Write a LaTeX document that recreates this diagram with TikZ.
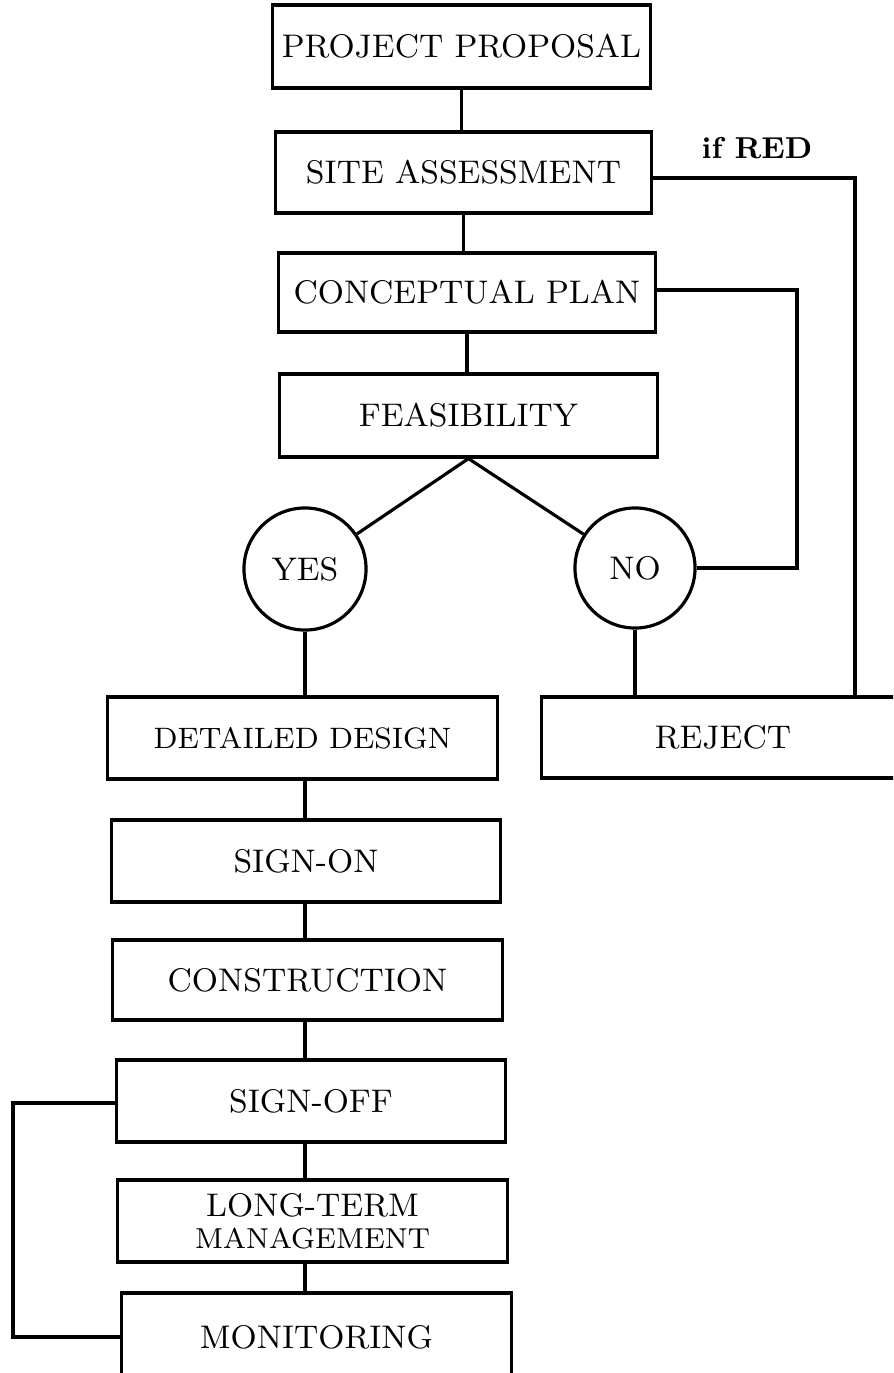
\documentclass[tikz,border=0pt]{standalone}
\usepackage{tikz}

\tikzset{
  stage/.style={draw, rectangle, line width=0.9pt, inner sep=2pt,
    font=\fontsize{9.3}{11}\selectfont},
  answer/.style={draw, circle, line width=0.9pt, inner sep=0pt,
    font=\fontsize{9.3}{11}\selectfont},
  link/.style={line width=0.9pt}
}

\begin{document}
\begin{tikzpicture}[x=0.01cm, y=-0.01cm]

\useasboundingbox (0,0) rectangle (893,1373);
\clip (0,0) rectangle (893,1373);

% upper chain
\node[stage, minimum width=3.77cm, minimum height=0.83cm] (proposal) at (461.5,46.5) {PROJECT PROPOSAL};
\node[stage, minimum width=3.75cm, minimum height=0.81cm] (site) at (463.5,172.5) {SITE ASSESSMENT};
\node[stage, minimum width=3.76cm, minimum height=0.79cm] (concept) at (467,292.5) {CONCEPTUAL PLAN};
\node[stage, minimum width=3.77cm, minimum height=0.83cm] (feasible) at (468.5,415.5) {FEASIBILITY};

\node[answer, minimum size=1.22cm] (yes) at (305,569) {YES};
\node[answer, minimum size=1.20cm] (no) at (635,568) {NO};

% lower chain
\node[stage, minimum width=3.89cm, minimum height=0.82cm, font=\fontsize{8.4}{10}\selectfont] (design) at (302.5,738) {DETAILED DESIGN};
\node[stage, minimum width=3.62cm, minimum height=0.81cm] (reject) at (723,737.5) {REJECT};
\node[stage, minimum width=3.89cm, minimum height=0.82cm] (signon) at (306,861) {SIGN-ON};
\node[stage, minimum width=3.89cm, minimum height=0.80cm] (build) at (307.5,980) {CONSTRUCTION};
\node[stage, minimum width=3.89cm, minimum height=0.82cm] (signoff) at (311,1101) {SIGN-OFF};
\node[stage, minimum width=3.89cm, minimum height=0.82cm, align=center] (manage) at (312.5,1221)
  {LONG-TERM\\[-2pt]{\fontsize{8.2}{9}\selectfont MANAGEMENT}};
\node[stage, minimum width=3.89cm, minimum height=0.88cm] (monitor) at (316.5,1337) {MONITORING};

\node[font=\bfseries\fontsize{8.6}{10}\selectfont] (ifred) at (757,148) {if RED};

\coordinate (redturn) at (855,178);
\coordinate (noturn) at (797,290);
\coordinate (loop) at (13,1103);

\draw[link] (proposal.south) -- (proposal.south |- site.north);
\draw[link] (site.south) -- (site.south |- concept.north);
\draw[link] (concept.south) -- (concept.south |- feasible.north);
\draw[link] (yes) -- (feasible.south) -- (no);

\draw[link] (yes.south) -- (yes.south |- design.north);
\draw[link] (no.south) -- (no.south |- reject.north);
\draw[link] (design.south -| yes.south) -- (signon.north -| yes.south);
\draw[link] (signon.south -| yes.south) -- (build.north -| yes.south);
\draw[link] (build.south -| yes.south) -- (signoff.north -| yes.south);
\draw[link] (signoff.south -| yes.south) -- (manage.north -| yes.south);
\draw[link] (manage.south -| yes.south) -- (monitor.north -| yes.south);

\draw[link] (site.east |- redturn) -- (redturn) -- (redturn |- reject.north);
\draw[link] (concept.east |- noturn) -- (noturn) -- (noturn |- no.east) -- (no.east);
\draw[link] (signoff.west |- loop) -- (loop) -- (loop |- monitor.west) -- (monitor.west);

\end{tikzpicture}
\end{document}
